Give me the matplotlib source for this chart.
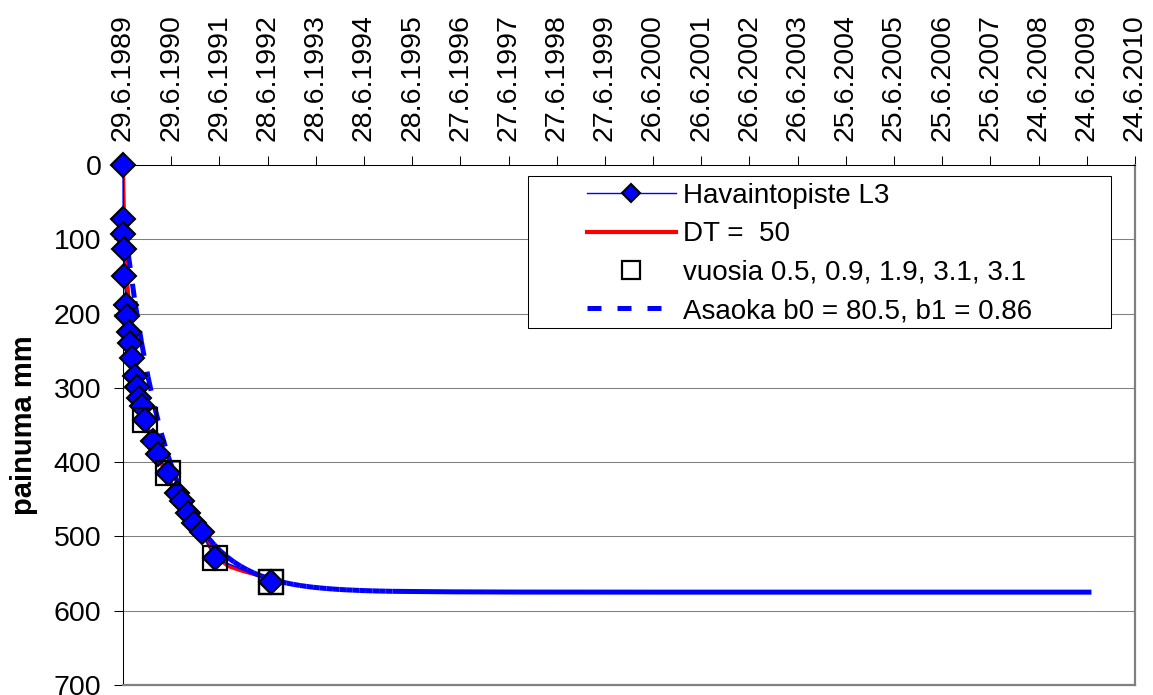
import matplotlib
matplotlib.use('Agg')
import matplotlib.pyplot as plt
import numpy as np
from matplotlib.collections import LineCollection
from matplotlib.lines import Line2D
from matplotlib.patches import Rectangle

plt.rcParams['font.family'] = ['Liberation Sans', 'DejaVu Sans']

# päivät alusta (29.6.1989) ja painuma mm
obs_days = [0, 1, 2, 4, 10, 23, 33, 48, 55, 70, 88, 108, 123, 144, 167, 225, 267, 338, 406, 444, 494, 540, 595, 696, 1118]
obs_mm = [0, 73, 93, 113, 149, 188, 203, 225, 239, 260, 284, 299, 313, 325, 343, 371, 389, 415, 442, 452, 469, 482, 494, 529, 561]

sq_days = [167, 338, 696, 1118, 1118]
sq_mm = [343, 415, 529, 561, 561]

dt_days = [0, 3, 7, 15, 28, 40, 60, 90, 120, 150, 200, 250, 300, 350, 400, 500, 600, 700, 800, 900, 1000, 1100, 1200]
dt_mm = [0, 35, 70, 114, 150, 177, 213, 258, 295, 328, 362, 387, 405, 425, 440, 468, 494, 527, 540, 546, 551, 556, 560]

asaoka_days = [40, 90, 140, 190, 240, 290, 340, 390, 440, 490, 540, 590, 640, 690, 740, 790, 840, 890, 940, 990,
               1040, 1090, 1140, 1190, 1240, 1290, 1340, 1390, 1440, 1490, 1540, 1590, 1640, 1690, 1740, 1790,
               1840, 1890, 1940, 1990, 2040]
asaoka_mm = [120, 183.7, 238.5, 285.6, 326.1, 360.9, 390.9, 416.7, 438.9, 458.0, 474.4, 488.5, 500.6, 511.0,
             520.0, 527.7, 534.3, 540.0, 544.9, 549.1, 552.7, 555.8, 558.5, 560.8, 562.8, 564.5, 566.0, 567.3,
             568.4, 569.3, 570.1, 570.8, 571.4, 571.9, 572.3, 572.7, 573.0, 573.3, 573.5, 573.7, 573.9]
tail_days = [2040, 2500, 3000, 4000, 5000, 6000, 7335]
tail_mm = [573.9, 574.6, 574.9, 575, 575, 575, 575]

date_labels = ['29.6.1989', '29.6.1990', '29.6.1991', '28.6.1992', '28.6.1993', '28.6.1994', '28.6.1995',
               '27.6.1996', '27.6.1997', '27.6.1998', '27.6.1999', '26.6.2000', '26.6.2001', '26.6.2002',
               '26.6.2003', '25.6.2004', '25.6.2005', '25.6.2006', '25.6.2007', '24.6.2008', '24.6.2009',
               '24.6.2010']

W, H = 1153, 695
fig = plt.figure(figsize=(W / 100, H / 100), dpi=100)
ax = fig.add_axes([123 / W, 10 / H, 1012 / W, 520 / H])

blue = '#0000FF'
red = '#FF0000'

ax.plot(dt_days, dt_mm, color=red, lw=3, zorder=2, solid_capstyle='butt')

# Asaoka: jokainen väli omana katkoviivanaan (kuten Excel)
segs = [[(asaoka_days[i], asaoka_mm[i]), (asaoka_days[i + 1], asaoka_mm[i + 1])] for i in range(len(asaoka_days) - 1)]
lc = LineCollection(segs, colors=blue, linewidths=3.6, linestyles=[(0, (2.8, 3.2))], capstyle='butt', zorder=3)
ax.add_collection(lc)
ax.plot(tail_days, tail_mm, color=blue, lw=3.6, solid_capstyle='butt', zorder=3)

h_obs, = ax.plot(obs_days, obs_mm, color=blue, lw=1, marker='D', ms=12, mfc=blue, mec='black', mew=1.5,
                 zorder=4, clip_on=False)
h_sq, = ax.plot(sq_days, sq_mm, ls='none', marker='s', ms=17, mfc='none', mec='black', mew=1.6, zorder=5)
h_dt = Line2D([], [], color=red, lw=3)
h_as = Line2D([], [], color=blue, lw=3.6, ls=(0, (2.8, 3.2)))

ax.set_xlim(0, 21 * 365)
ax.set_ylim(700, 0)
ax.set_xticks(np.arange(0, 21 * 365 + 1, 365))
ax.set_xticklabels(date_labels, rotation=90)
ax.set_yticks(np.arange(0, 701, 100))
ax.tick_params(axis='x', top=True, bottom=False, labeltop=True, labelbottom=False,
               direction='out', length=6.5, width=0.75, pad=11, labelsize=20.5)
ax.tick_params(axis='y', direction='out', length=6.5, width=0.75, pad=9, labelsize=20.5)
ax.grid(axis='y', color='#808080', lw=0.75)
ax.set_axisbelow(True)

ax.spines['left'].set_color('black')
ax.spines['left'].set_linewidth(0.75)
ax.spines['top'].set_color('black')
ax.spines['top'].set_linewidth(0.75)
for s in ['right', 'bottom']:
    ax.spines[s].set_color('#808080')
    ax.spines[s].set_linewidth(1.6)

ax.set_ylabel('painuma mm', fontsize=21, fontweight='bold')
ax.yaxis.set_label_coords(-0.084, 0.5)

rect = Rectangle((528 / W, 1 - 328 / H), 583 / W, 152 / H, transform=fig.transFigure,
                 fc='white', ec='black', lw=0.75, zorder=6)
fig.add_artist(rect)

leg = fig.legend([h_obs, h_dt, h_sq, h_as],
                 ['Havaintopiste L3', 'DT =  50', 'vuosia 0.5, 0.9, 1.9, 3.1, 3.1', 'Asaoka b0 = 80.5, b1 = 0.86'],
                 loc='upper left', bbox_to_anchor=(587 / W, 1 - 183 / H), bbox_transform=fig.transFigure,
                 frameon=False, fontsize=20, borderpad=0, borderaxespad=0, handlelength=3.2,
                 handletextpad=0.25, labelspacing=0.445, markerscale=0.75)
leg.set_zorder(7)

fig.savefig('out.png', dpi=100)
